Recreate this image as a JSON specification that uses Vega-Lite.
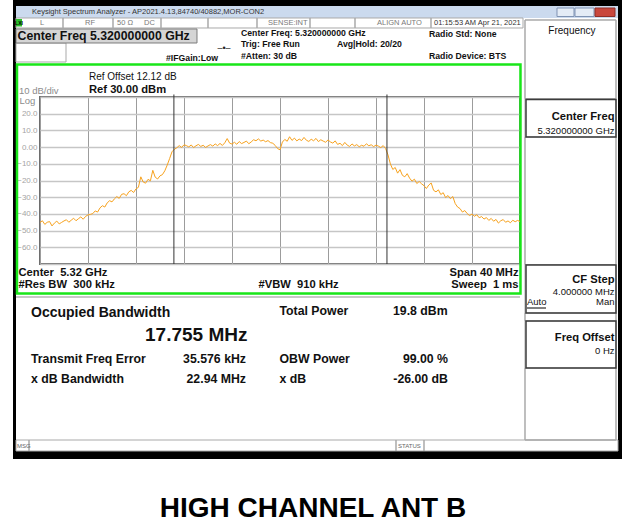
{
"$schema": "https://vega.github.io/schema/vega-lite/v6.json",
"width": 480, "height": 167,
"autosize": {"type": "none"},
"padding": {"left": 40, "top": 97, "right": 110, "bottom": 263},
"background": "white",
"resolve": {"axis": {"x": "independent", "y": "independent"}},
"config": {"view": {"stroke": "#6e6e6e", "strokeWidth": 2}, "text": {"font": "Liberation Sans"}, "axis": {"labelFont": "Liberation Sans"}},
"layer": [
{"data": {"values": [
{"x1":5297.75,"x2":5348.5,"y1":88.08,"y2":84.49},
{"x1":5297.75,"x2":5298.0,"y1":88.08,"y2":-186.77},
{"x1":5348.167,"x2":5348.5,"y1":88.08,"y2":-186.77},
{"x1":5297.75,"x2":5348.5,"y1":-181.98,"y2":-186.77},
{"x1":5340.583,"x2":5342.167,"y1":-96.05,"y2":-96.65}]},
 "mark": {"type": "rect", "fill": "#000000"},
 "encoding": {"x": {"field": "x1", "type": "quantitative", "axis": null}, "x2": {"field": "x2"}, "y": {"field": "y1", "type": "quantitative", "axis": null}, "y2": {"field": "y2"}}},
{"data": {"values": [{"x1":5298.0,"x2":5348.167,"y1":84.49,"y2":77.31}]},
 "mark": {"type": "rect", "fill": "#cbdaee"},
 "encoding": {"x": {"field": "x1", "type": "quantitative", "axis": null}, "x2": {"field": "x2"}, "y": {"field": "y1", "type": "quantitative", "axis": null}, "y2": {"field": "y2"}}},
{"data": {"values": [
{"x1":5298.0,"x2":5301.917,"y1":77.31,"y2":71.32},
{"x1":5301.917,"x2":5306.083,"y1":77.31,"y2":71.32},
{"x1":5306.083,"x2":5310.083,"y1":77.31,"y2":71.32},
{"x1":5310.083,"x2":5314.0,"y1":77.31,"y2":71.32},
{"x1":5314.0,"x2":5318.083,"y1":77.31,"y2":71.32},
{"x1":5318.083,"x2":5322.5,"y1":77.31,"y2":71.32},
{"x1":5322.5,"x2":5326.25,"y1":77.31,"y2":71.32},
{"x1":5326.25,"x2":5332.583,"y1":77.31,"y2":71.32},
{"x1":5332.583,"x2":5340.25,"y1":77.31,"y2":71.32},
{"x1":5298.0,"x2":5302.167,"y1":62.34,"y2":50.96},
{"x1":5298.0,"x2":5299.083,"y1":-175.39,"y2":-181.98},
{"x1":5299.083,"x2":5329.667,"y1":-175.39,"y2":-181.98},
{"x1":5329.667,"x2":5332.0,"y1":-175.39,"y2":-181.98},
{"x1":5332.0,"x2":5348.167,"y1":-175.39,"y2":-181.98},
{"x1":5340.417,"x2":5348.0,"y1":76.11,"y2":29.10},
{"x1":5340.417,"x2":5348.0,"y1":6.05,"y2":-70.30},
{"x1":5340.417,"x2":5348.0,"y1":-99.34,"y2":-104.13},
{"x1":5340.417,"x2":5348.0,"y1":-132.28,"y2":-175.39},
{"x1":5340.417,"x2":5348.0,"y1":76.11,"y2":-175.39}]},
 "mark": {"type": "rect", "fillOpacity": 0, "stroke": "#a9a9a9", "strokeWidth": 1},
 "encoding": {"x": {"field": "x1", "type": "quantitative", "axis": null}, "x2": {"field": "x2"}, "y": {"field": "y1", "type": "quantitative", "axis": null}, "y2": {"field": "y2"}}},
{"data": {"values": [{"x1":5298.0,"x2":5313.083,"y1":70.72,"y2":62.34}]},
 "mark": {"type": "rect", "fill": "#d5d5d5", "stroke": "#7c7c7c", "strokeWidth": 1},
 "encoding": {"x": {"field": "x1", "type": "quantitative", "axis": null}, "x2": {"field": "x2"}, "y": {"field": "y1", "type": "quantitative", "axis": null}, "y2": {"field": "y2"}}},
{"data": {"values": [
{"x1":5343.083,"x2":5344.5,"y1":83.29,"y2":78.20},
{"x1":5344.583,"x2":5346.167,"y1":83.29,"y2":78.20}]},
 "mark": {"type": "rect", "fill": "#e4ecf6", "stroke": "#7f93b3", "strokeWidth": 1},
 "encoding": {"x": {"field": "x1", "type": "quantitative", "axis": null}, "x2": {"field": "x2"}, "y": {"field": "y1", "type": "quantitative", "axis": null}, "y2": {"field": "y2"}}},
{"data": {"values": [{"x1":5346.25,"x2":5347.917,"y1":83.29,"y2":78.20}]},
 "mark": {"type": "rect", "fill": "#c9473d", "stroke": "#8e2f28", "strokeWidth": 1},
 "encoding": {"x": {"field": "x1", "type": "quantitative", "axis": null}, "x2": {"field": "x2"}, "y": {"field": "y1", "type": "quantitative", "axis": null}, "y2": {"field": "y2"}}},
{"data": {"values": [
{"x1":5340.5,"x2":5348.0,"y1":28.50,"y2":6.05},
{"x1":5340.5,"x2":5348.0,"y1":-70.60,"y2":-99.34},
{"x1":5340.5,"x2":5348.0,"y1":-104.13,"y2":-132.28}]},
 "mark": {"type": "rect", "fillOpacity": 0, "stroke": "#3c3c3c", "strokeWidth": 1.5},
 "encoding": {"x": {"field": "x1", "type": "quantitative", "axis": null}, "x2": {"field": "x2"}, "y": {"field": "y1", "type": "quantitative", "axis": null}, "y2": {"field": "y2"}}},
{"data": {"values": [{"x1":5298.083,"x2":5340.04,"y1":49.46,"y2":-87.66}]},
 "mark": {"type": "rect", "fillOpacity": 0, "stroke": "#19e619", "strokeWidth": 2.5},
 "encoding": {"x": {"field": "x1", "type": "quantitative", "axis": null}, "x2": {"field": "x2"}, "y": {"field": "y1", "type": "quantitative", "axis": null}, "y2": {"field": "y2"}}},
{"data": {"values": [{"x1":5298.0,"x2":5340.0,"y1":-89.16,"y2":-90.36}]},
 "mark": {"type": "rect", "fill": "#c8c8c8"},
 "encoding": {"x": {"field": "x1", "type": "quantitative", "axis": null}, "x2": {"field": "x2"}, "y": {"field": "y1", "type": "quantitative", "axis": null}, "y2": {"field": "y2"}}},
{"data": {"values": [{"x1":5298.0,"x2":5298.5,"y1":76.71,"y2":72.22}]},
 "mark": {"type": "rect", "fill": "#2bbf2b"},
 "encoding": {"x": {"field": "x1", "type": "quantitative", "axis": null}, "x2": {"field": "x2"}, "y": {"field": "y1", "type": "quantitative", "axis": null}, "y2": {"field": "y2"}}},
{"data": {"values": [
{"f":5300.0,"db":-45.2},{"f":5300.2,"db":-44.1},{"f":5300.4,"db":-46.3},{"f":5300.6,"db":-45.0},{"f":5300.8,"db":-44.6},
{"f":5301.0,"db":-47.2},{"f":5301.2,"db":-45.5},{"f":5301.4,"db":-44.3},{"f":5301.6,"db":-46.0},{"f":5301.8,"db":-45.1},
{"f":5302.0,"db":-44.2},{"f":5302.2,"db":-43.5},{"f":5302.4,"db":-45.0},{"f":5302.6,"db":-43.8},{"f":5302.8,"db":-42.6},
{"f":5303.0,"db":-44.1},{"f":5303.2,"db":-42.9},{"f":5303.4,"db":-41.8},{"f":5303.6,"db":-43.2},{"f":5303.8,"db":-41.5},
{"f":5304.0,"db":-40.6},{"f":5304.2,"db":-40.3},{"f":5304.4,"db":-39.8},{"f":5304.6,"db":-38.2},{"f":5304.8,"db":-38.9},
{"f":5305.0,"db":-36.4},{"f":5305.2,"db":-35.1},{"f":5305.4,"db":-35.9},{"f":5305.6,"db":-33.4},{"f":5305.8,"db":-32.1},
{"f":5306.0,"db":-32.8},{"f":5306.2,"db":-31.0},{"f":5306.4,"db":-29.6},{"f":5306.6,"db":-30.7},{"f":5306.8,"db":-28.3},
{"f":5307.0,"db":-27.9},{"f":5307.2,"db":-29.1},{"f":5307.4,"db":-26.8},{"f":5307.6,"db":-25.9},{"f":5307.8,"db":-27.2},
{"f":5308.0,"db":-25.0},{"f":5308.2,"db":-24.1},{"f":5308.4,"db":-17.8},{"f":5308.6,"db":-20.9},{"f":5308.8,"db":-21.6},
{"f":5309.0,"db":-19.3},{"f":5309.2,"db":-20.2},{"f":5309.4,"db":-13.9},{"f":5309.6,"db":-18.0},{"f":5309.8,"db":-19.1},
{"f":5310.0,"db":-17.2},{"f":5310.2,"db":-16.5},{"f":5310.4,"db":-14.2},{"f":5310.6,"db":-10.8},{"f":5310.8,"db":-6.9},
{"f":5311.0,"db":-2.8},{"f":5311.2,"db":-1.3},{"f":5311.4,"db":-0.4},{"f":5311.6,"db":0.9},{"f":5311.8,"db":-0.2},
{"f":5312.0,"db":1.4},{"f":5312.2,"db":0.9},{"f":5312.4,"db":0.1},{"f":5312.6,"db":1.3},{"f":5312.8,"db":-0.3},
{"f":5313.0,"db":0.8},{"f":5313.2,"db":1.6},{"f":5313.4,"db":0.4},{"f":5313.6,"db":1.1},{"f":5313.8,"db":-0.2},
{"f":5314.0,"db":0.7},{"f":5314.2,"db":1.5},{"f":5314.4,"db":0.6},{"f":5314.6,"db":1.9},{"f":5314.8,"db":0.9},
{"f":5315.0,"db":2.2},{"f":5315.2,"db":1.0},{"f":5315.4,"db":2.6},{"f":5315.6,"db":5.1},{"f":5315.8,"db":2.4},
{"f":5316.0,"db":1.8},{"f":5316.2,"db":2.9},{"f":5316.4,"db":1.7},{"f":5316.6,"db":3.3},{"f":5316.8,"db":2.1},
{"f":5317.0,"db":2.8},{"f":5317.2,"db":3.6},{"f":5317.4,"db":2.0},{"f":5317.6,"db":3.1},{"f":5317.8,"db":4.4},
{"f":5318.0,"db":3.8},{"f":5318.2,"db":4.9},{"f":5318.4,"db":3.6},{"f":5318.6,"db":4.2},{"f":5318.8,"db":3.2},
{"f":5319.0,"db":3.9},{"f":5319.2,"db":2.7},{"f":5319.4,"db":2.3},{"f":5319.6,"db":1.0},{"f":5319.8,"db":-0.9},
{"f":5320.0,"db":-1.6},{"f":5320.2,"db":3.0},{"f":5320.4,"db":4.6},{"f":5320.6,"db":3.5},{"f":5320.8,"db":6.2},
{"f":5321.0,"db":4.0},{"f":5321.2,"db":5.4},{"f":5321.4,"db":3.7},{"f":5321.6,"db":4.8},{"f":5321.8,"db":3.9},
{"f":5322.0,"db":5.8},{"f":5322.2,"db":4.1},{"f":5322.4,"db":3.4},{"f":5322.6,"db":4.7},{"f":5322.8,"db":3.8},
{"f":5323.0,"db":5.2},{"f":5323.2,"db":3.3},{"f":5323.4,"db":4.4},{"f":5323.6,"db":3.6},{"f":5323.8,"db":2.9},
{"f":5324.0,"db":4.3},{"f":5324.2,"db":3.1},{"f":5324.4,"db":2.4},{"f":5324.6,"db":3.7},{"f":5324.8,"db":1.6},
{"f":5325.0,"db":2.3},{"f":5325.2,"db":0.9},{"f":5325.4,"db":2.8},{"f":5325.6,"db":1.2},{"f":5325.8,"db":0.4},
{"f":5326.0,"db":1.9},{"f":5326.2,"db":0.7},{"f":5326.4,"db":1.5},{"f":5326.6,"db":0.2},{"f":5326.8,"db":1.1},
{"f":5327.0,"db":0.5},{"f":5327.2,"db":2.0},{"f":5327.4,"db":0.8},{"f":5327.6,"db":1.4},{"f":5327.8,"db":0.3},
{"f":5328.0,"db":1.2},{"f":5328.2,"db":0.6},{"f":5328.4,"db":-0.3},{"f":5328.6,"db":0.9},{"f":5328.8,"db":-0.8},
{"f":5329.0,"db":-4.7},{"f":5329.2,"db":-10.1},{"f":5329.4,"db":-13.4},{"f":5329.6,"db":-12.2},{"f":5329.8,"db":-15.6},
{"f":5330.0,"db":-13.5},{"f":5330.2,"db":-16.9},{"f":5330.4,"db":-17.8},{"f":5330.6,"db":-15.9},{"f":5330.8,"db":-18.6},
{"f":5331.0,"db":-20.4},{"f":5331.2,"db":-19.2},{"f":5331.4,"db":-21.8},{"f":5331.6,"db":-20.6},{"f":5331.8,"db":-22.0},
{"f":5332.0,"db":-23.1},{"f":5332.2,"db":-24.8},{"f":5332.4,"db":-22.7},{"f":5332.6,"db":-21.5},{"f":5332.8,"db":-25.9},
{"f":5333.0,"db":-26.8},{"f":5333.2,"db":-25.6},{"f":5333.4,"db":-28.4},{"f":5333.6,"db":-27.3},{"f":5333.8,"db":-30.2},
{"f":5334.0,"db":-29.0},{"f":5334.2,"db":-30.9},{"f":5334.4,"db":-29.6},{"f":5334.6,"db":-33.8},{"f":5334.8,"db":-35.9},
{"f":5335.0,"db":-36.8},{"f":5335.2,"db":-38.9},{"f":5335.4,"db":-38.0},{"f":5335.6,"db":-39.8},{"f":5335.8,"db":-41.0},
{"f":5336.0,"db":-40.1},{"f":5336.2,"db":-41.4},{"f":5336.4,"db":-40.5},{"f":5336.6,"db":-42.3},{"f":5336.8,"db":-41.6},
{"f":5337.0,"db":-43.1},{"f":5337.2,"db":-42.2},{"f":5337.4,"db":-43.9},{"f":5337.6,"db":-42.7},{"f":5337.8,"db":-44.4},
{"f":5338.0,"db":-43.3},{"f":5338.2,"db":-45.5},{"f":5338.4,"db":-44.1},{"f":5338.6,"db":-43.4},{"f":5338.8,"db":-45.0},
{"f":5339.0,"db":-44.2},{"f":5339.2,"db":-45.3},{"f":5339.4,"db":-43.8},{"f":5339.6,"db":-44.7},{"f":5339.8,"db":-43.9},
{"f":5340.0,"db":-44.6}]},
 "mark": {"type": "line", "color": "#f7a21e", "strokeWidth": 1},
 "encoding": {
  "x": {"field": "f", "type": "quantitative", "scale": {"domain": [5300, 5340], "nice": false, "zero": false},
        "axis": {"values": [5300,5304,5308,5312,5316,5320,5324,5328,5332,5336,5340], "grid": true, "gridColor": "#9c9c9c", "gridWidth": 1, "domain": false, "ticks": false, "labels": false, "title": null}},
  "y": {"field": "db", "type": "quantitative", "scale": {"domain": [-70, 30], "nice": false, "zero": false},
        "axis": {"values": [-70,-60,-50,-40,-30,-20,-10,0,10,20,30], "grid": true, "gridColor": "#c6c6c6", "gridWidth": 1.5, "domain": false, "ticks": false, "labelFontSize": 8, "labelColor": "#a4a4a4", "labelPadding": 3, "labelExpr": "datum.value >= 30 || datum.value <= -70 ? '' : (datum.value == 0 ? '0.00' : format(datum.value, '.1f'))", "title": null}}
 }},
{"data": {"values": [{"f":5311.158,"lo":-70,"hi":31.5},{"f":5328.913,"lo":-70,"hi":31.5}]},
 "mark": {"type": "rule", "color": "#333333", "strokeWidth": 1},
 "encoding": {"x": {"field": "f", "type": "quantitative", "axis": null}, "y": {"field": "lo", "type": "quantitative", "axis": null}, "y2": {"field": "hi"}}},
{"data": {"values": [
{"x":5299.333,"y":80.60,"t":"Keysight Spectrum Analyzer - AP2021.4.13,84740/40882,MOR-CON2"},
{"x":5332.833,"y":74.31,"t":"01:15:53 AM Apr 21, 2021"}]},
 "mark": {"type": "text", "align": "left", "baseline": "middle", "fontSize": 7.5, "color": "#333333"},
 "encoding": {"x": {"field": "x", "type": "quantitative", "axis": null}, "y": {"field": "y", "type": "quantitative", "axis": null}, "text": {"field": "t"}}},
{"data": {"values": [
{"x":5300.0,"y":74.31,"t":"L"},
{"x":5303.75,"y":74.31,"t":"RF"},
{"x":5306.417,"y":74.31,"t":"50 Ω"},
{"x":5308.667,"y":74.31,"t":"DC"},
{"x":5319.0,"y":74.31,"t":"SENSE:INT"},
{"x":5328.083,"y":74.31,"t":"ALIGN AUTO"}]},
 "mark": {"type": "text", "align": "left", "baseline": "middle", "fontSize": 7.5, "color": "#7a7a7a"},
 "encoding": {"x": {"field": "x", "type": "quantitative", "axis": null}, "y": {"field": "y", "type": "quantitative", "axis": null}, "text": {"field": "t"}}},
{"data": {"values": [
{"x":5298.083,"y":-178.98,"t":"MSG"},
{"x":5329.833,"y":-178.98,"t":"STATUS"}]},
 "mark": {"type": "text", "align": "left", "baseline": "middle", "fontSize": 6, "color": "#666666"},
 "encoding": {"x": {"field": "x", "type": "quantitative", "axis": null}, "y": {"field": "y", "type": "quantitative", "axis": null}, "text": {"field": "t"}}},
{"data": {"values": [{"x":5298.25,"y":74.49,"t":"LXI"}]},
 "mark": {"type": "text", "align": "center", "baseline": "middle", "fontSize": 5, "fontWeight": "bold", "color": "#000000"},
 "encoding": {"x": {"field": "x", "type": "quantitative", "axis": null}, "y": {"field": "y", "type": "quantitative", "axis": null}, "text": {"field": "t"}}},
{"data": {"values": [{"x":5315.333,"y":59.34,"t":"–•–"}]},
 "mark": {"type": "text", "align": "center", "baseline": "middle", "fontSize": 9, "color": "#222222"},
 "encoding": {"x": {"field": "x", "type": "quantitative", "axis": null}, "y": {"field": "y", "type": "quantitative", "axis": null}, "text": {"field": "t"}}},
{"data": {"values": [
{"x":5298.125,"y":66.23,"t":"Center Freq 5.320000000 GHz"},
{"x":5299.25,"y":-126.59,"t":"Transmit Freq Error"},
{"x":5299.25,"y":-138.86,"t":"x dB Bandwidth"},
{"x":5319.958,"y":-98.14,"t":"Total Power"},
{"x":5319.958,"y":-126.59,"t":"OBW Power"},
{"x":5319.958,"y":-138.86,"t":"x dB"},
{"x":5329.417,"y":-98.14,"t":"19.8 dBm"}]},
 "mark": {"type": "text", "align": "left", "baseline": "middle", "fontSize": 12.3, "fontWeight": "bold", "color": "#111111"},
 "encoding": {"x": {"field": "x", "type": "quantitative", "axis": null}, "y": {"field": "y", "type": "quantitative", "axis": null}, "text": {"field": "t"}}},
{"data": {"values": [
{"x":5317.167,"y":-126.59,"t":"35.576 kHz"},
{"x":5317.167,"y":-138.86,"t":"22.94 MHz"},
{"x":5334.0,"y":-126.59,"t":"99.00 %"},
{"x":5334.0,"y":-138.86,"t":"-26.00 dB"}]},
 "mark": {"type": "text", "align": "right", "baseline": "middle", "fontSize": 12.3, "fontWeight": "bold", "color": "#111111"},
 "encoding": {"x": {"field": "x", "type": "quantitative", "axis": null}, "y": {"field": "y", "type": "quantitative", "axis": null}, "text": {"field": "t"}}},
{"data": {"values": [
{"x":5316.75,"y":68.32,"t":"Center Freq: 5.320000000 GHz"},
{"x":5316.75,"y":61.44,"t":"Trig: Free Run"},
{"x":5316.75,"y":54.55,"t":"#Atten: 30 dB"},
{"x":5324.75,"y":61.74,"t":"Avg|Hold: 20/20"},
{"x":5332.417,"y":67.72,"t":"Radio Std: None"},
{"x":5332.417,"y":54.55,"t":"Radio Device: BTS"},
{"x":5310.5,"y":53.53,"t":"#IFGain:Low"}]},
 "mark": {"type": "text", "align": "left", "baseline": "middle", "fontSize": 8.7, "fontWeight": "bold", "color": "#111111"},
 "encoding": {"x": {"field": "x", "type": "quantitative", "axis": null}, "y": {"field": "y", "type": "quantitative", "axis": null}, "text": {"field": "t"}}},
{"data": {"values": [{"x":5344.333,"y":69.52,"t":"Frequency"}]},
 "mark": {"type": "text", "align": "center", "baseline": "middle", "fontSize": 10, "color": "#111111"},
 "encoding": {"x": {"field": "x", "type": "quantitative", "axis": null}, "y": {"field": "y", "type": "quantitative", "axis": null}, "text": {"field": "t"}}},
{"data": {"values": [
{"x":5347.875,"y":18.32,"t":"Center Freq"},
{"x":5347.875,"y":-79.58,"t":"CF Step"},
{"x":5347.875,"y":-114.61,"t":"Freq Offset"},
{"x":5339.875,"y":-75.39,"t":"Span 40 MHz"},
{"x":5339.875,"y":-82.57,"t":"Sweep\u00a0\u00a01 ms"}]},
 "mark": {"type": "text", "align": "right", "baseline": "middle", "fontSize": 11.2, "fontWeight": "bold", "color": "#111111"},
 "encoding": {"x": {"field": "x", "type": "quantitative", "axis": null}, "y": {"field": "y", "type": "quantitative", "axis": null}, "text": {"field": "t"}}},
{"data": {"values": [
{"x":5298.208,"y":-75.39,"t":"Center\u00a0\u00a05.32 GHz"},
{"x":5298.208,"y":-82.57,"t":"#Res BW\u00a0\u00a0300 kHz"},
{"x":5318.208,"y":-82.57,"t":"#VBW\u00a0\u00a0910 kHz"},
{"x":5304.083,"y":34.49,"t":"Ref 30.00 dBm"}]},
 "mark": {"type": "text", "align": "left", "baseline": "middle", "fontSize": 11.2, "fontWeight": "bold", "color": "#111111"},
 "encoding": {"x": {"field": "x", "type": "quantitative", "axis": null}, "y": {"field": "y", "type": "quantitative", "axis": null}, "text": {"field": "t"}}},
{"data": {"values": [
{"x":5347.875,"y":9.94,"t":"5.320000000 GHz"},
{"x":5347.875,"y":-86.77,"t":"4.000000 MHz"},
{"x":5347.875,"y":-92.75,"t":"Man"},
{"x":5347.875,"y":-122.10,"t":"0 Hz"}]},
 "mark": {"type": "text", "align": "right", "baseline": "middle", "fontSize": 9.5, "color": "#111111"},
 "encoding": {"x": {"field": "x", "type": "quantitative", "axis": null}, "y": {"field": "y", "type": "quantitative", "axis": null}, "text": {"field": "t"}}},
{"data": {"values": [{"x":5340.583,"y":-92.75,"t":"Auto"}]},
 "mark": {"type": "text", "align": "left", "baseline": "middle", "fontSize": 9.5, "color": "#111111"},
 "encoding": {"x": {"field": "x", "type": "quantitative", "axis": null}, "y": {"field": "y", "type": "quantitative", "axis": null}, "text": {"field": "t"}}},
{"data": {"values": [{"x":5304.083,"y":41.68,"t":"Ref Offset 12.12 dB"}]},
 "mark": {"type": "text", "align": "left", "baseline": "middle", "fontSize": 10, "color": "#111111"},
 "encoding": {"x": {"field": "x", "type": "quantitative", "axis": null}, "y": {"field": "y", "type": "quantitative", "axis": null}, "text": {"field": "t"}}},
{"data": {"values": [
{"x":5298.25,"y":33.89,"t":"10 dB/div"},
{"x":5298.29,"y":27.60,"t":"Log"}]},
 "mark": {"type": "text", "align": "left", "baseline": "middle", "fontSize": 9.5, "color": "#8c8c8c"},
 "encoding": {"x": {"field": "x", "type": "quantitative", "axis": null}, "y": {"field": "y", "type": "quantitative", "axis": null}, "text": {"field": "t"}}},
{"data": {"values": [{"x":5299.25,"y":-99.64,"t":"Occupied Bandwidth"}]},
 "mark": {"type": "text", "align": "left", "baseline": "middle", "fontSize": 14, "fontWeight": "bold", "color": "#111111"},
 "encoding": {"x": {"field": "x", "type": "quantitative", "axis": null}, "y": {"field": "y", "type": "quantitative", "axis": null}, "text": {"field": "t"}}},
{"data": {"values": [{"x":5308.75,"y":-112.22,"t":"17.755 MHz"}]},
 "mark": {"type": "text", "align": "left", "baseline": "middle", "fontSize": 19, "fontWeight": "bold", "color": "#111111"},
 "encoding": {"x": {"field": "x", "type": "quantitative", "axis": null}, "y": {"field": "y", "type": "quantitative", "axis": null}, "text": {"field": "t"}}},
{"data": {"values": [{"x":5322.75,"y":-216.71,"t":"HIGH CHANNEL ANT B"}]},
 "mark": {"type": "text", "align": "center", "baseline": "middle", "fontSize": 28, "fontWeight": "bold", "color": "#000000"},
 "encoding": {"x": {"field": "x", "type": "quantitative", "axis": null}, "y": {"field": "y", "type": "quantitative", "axis": null}, "text": {"field": "t"}}}
]
}
